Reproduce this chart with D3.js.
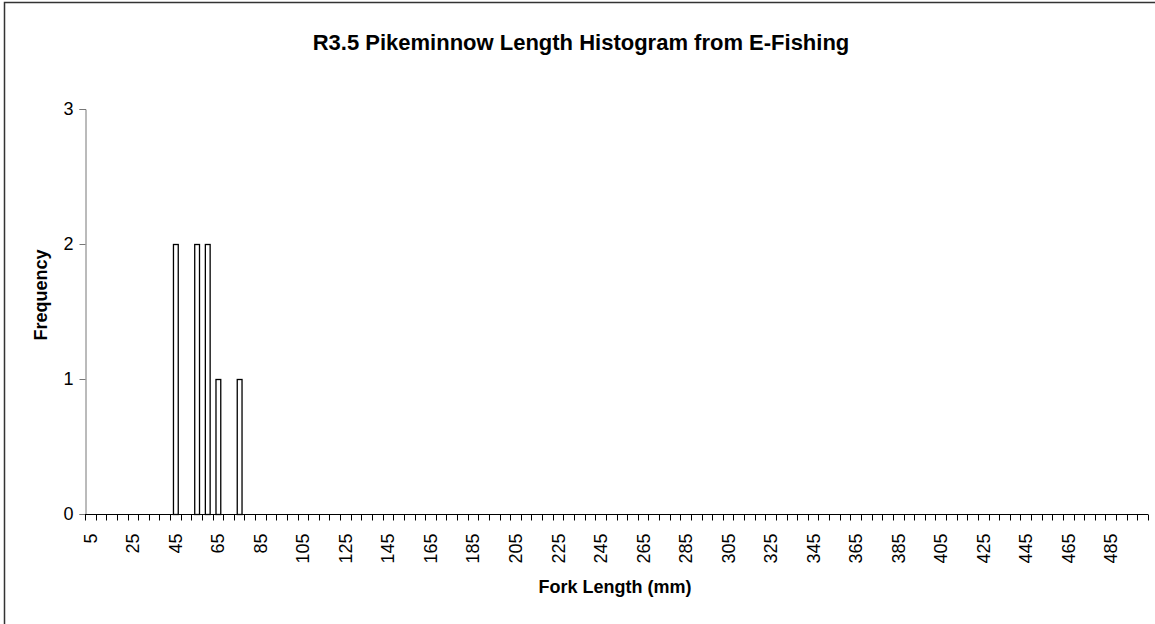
<!DOCTYPE html>
<html>
<head>
<meta charset="utf-8">
<script src="https://d3js.org/d3.v7.min.js"></script>
<style>
  body { margin: 0; background: #fff; }
  text { font-family: "Liberation Sans", Arial, sans-serif; }
</style>
</head>
<body>
<svg id="chart" width="1155" height="624"></svg>
<script>
// Fork length bins (mm), 5 to 500 in steps of 5.
var bins = d3.range(5, 501, 5);
// Non-zero counts; every other bin is 0.
var counts = {45: 2, 55: 2, 60: 2, 65: 1, 75: 1};
var freq = bins.map(function(b){ return counts[b] || 0; });
var yTicks = [0, 1, 2, 3];

var svg = d3.select("#chart");

// Chart frame, runs off the right and bottom edges like the picture.
svg.append("rect")
    .attr("x", 4.5).attr("y", 2.5)
    .attr("width", 1170).attr("height", 640)
    .style("fill", "white")
    .style("stroke", "#333")
    .style("stroke-width", 1.5);

var x = d3.scaleBand()
    .domain(bins)
    .range([85, 1148])
    .paddingInner(0.55)
    .paddingOuter(0.275);

var y = d3.scaleLinear()
    .domain([0, 3])
    .range([514, 109]);

// Bars: white fill, black outline.
svg.append("g").selectAll("rect")
    .data(bins.filter(function(b, i){ return freq[i] > 0; }))
    .enter()
    .append("rect")
    .attr("x", function(d){ return x(d) + 0.5; })
    .attr("y", function(d){ return y(counts[d]) + 0.5; })
    .attr("width", x.bandwidth())
    .attr("height", function(d){ return y(0) - y(counts[d]); })
    .style("fill", "white")
    .style("stroke", "black")
    .style("stroke-width", 1.3);

// Y axis.
var yAxis = svg.append("g")
    .attr("transform", "translate(85.5,0)")
    .call(d3.axisLeft(y).tickValues(yTicks).tickFormat(d3.format("d")).tickSize(6).tickPadding(6));
yAxis.select(".domain").style("stroke", "#777");
yAxis.selectAll(".tick line").style("stroke", "#777");
yAxis.selectAll("text").style("font-size", "18px").style("fill", "black");

// X axis: ticks on bin boundaries, labels every fourth bin.
var step = x.step();
var xg = svg.append("g").attr("transform", "translate(0,514.5)");
xg.append("line")
    .attr("x1", 85).attr("x2", 1148)
    .style("stroke", "black");
xg.selectAll("line.tk")
    .data(d3.range(0, bins.length + 1))
    .enter()
    .append("line")
    .attr("class", "tk")
    .attr("x1", function(i){ return Math.round(85 + i * step) + 0.5; })
    .attr("x2", function(i){ return Math.round(85 + i * step) + 0.5; })
    .attr("y1", 0).attr("y2", 6)
    .style("stroke", "black");
xg.selectAll("text")
    .data(bins.filter(function(b, i){ return i % 4 === 0; }))
    .enter()
    .append("text")
    .attr("transform", function(d){
        return "translate(" + (x(d) + x.bandwidth() / 2 + 6.5) + ",19) rotate(-90)";
    })
    .attr("text-anchor", "end")
    .style("font-size", "18px")
    .text(function(d){ return d; });

// Titles.
svg.append("text")
    .attr("x", 581).attr("y", 50)
    .attr("text-anchor", "middle")
    .style("font-size", "22px")
    .style("font-weight", "bold")
    .text("R3.5 Pikeminnow Length Histogram from E-Fishing");

svg.append("text")
    .attr("x", 615).attr("y", 593)
    .attr("text-anchor", "middle")
    .style("font-size", "18px")
    .style("font-weight", "bold")
    .text("Fork Length (mm)");

svg.append("text")
    .attr("transform", "translate(47,295) rotate(-90)")
    .attr("text-anchor", "middle")
    .style("font-size", "18px")
    .style("font-weight", "bold")
    .text("Frequency");
</script>
</body>
</html>
